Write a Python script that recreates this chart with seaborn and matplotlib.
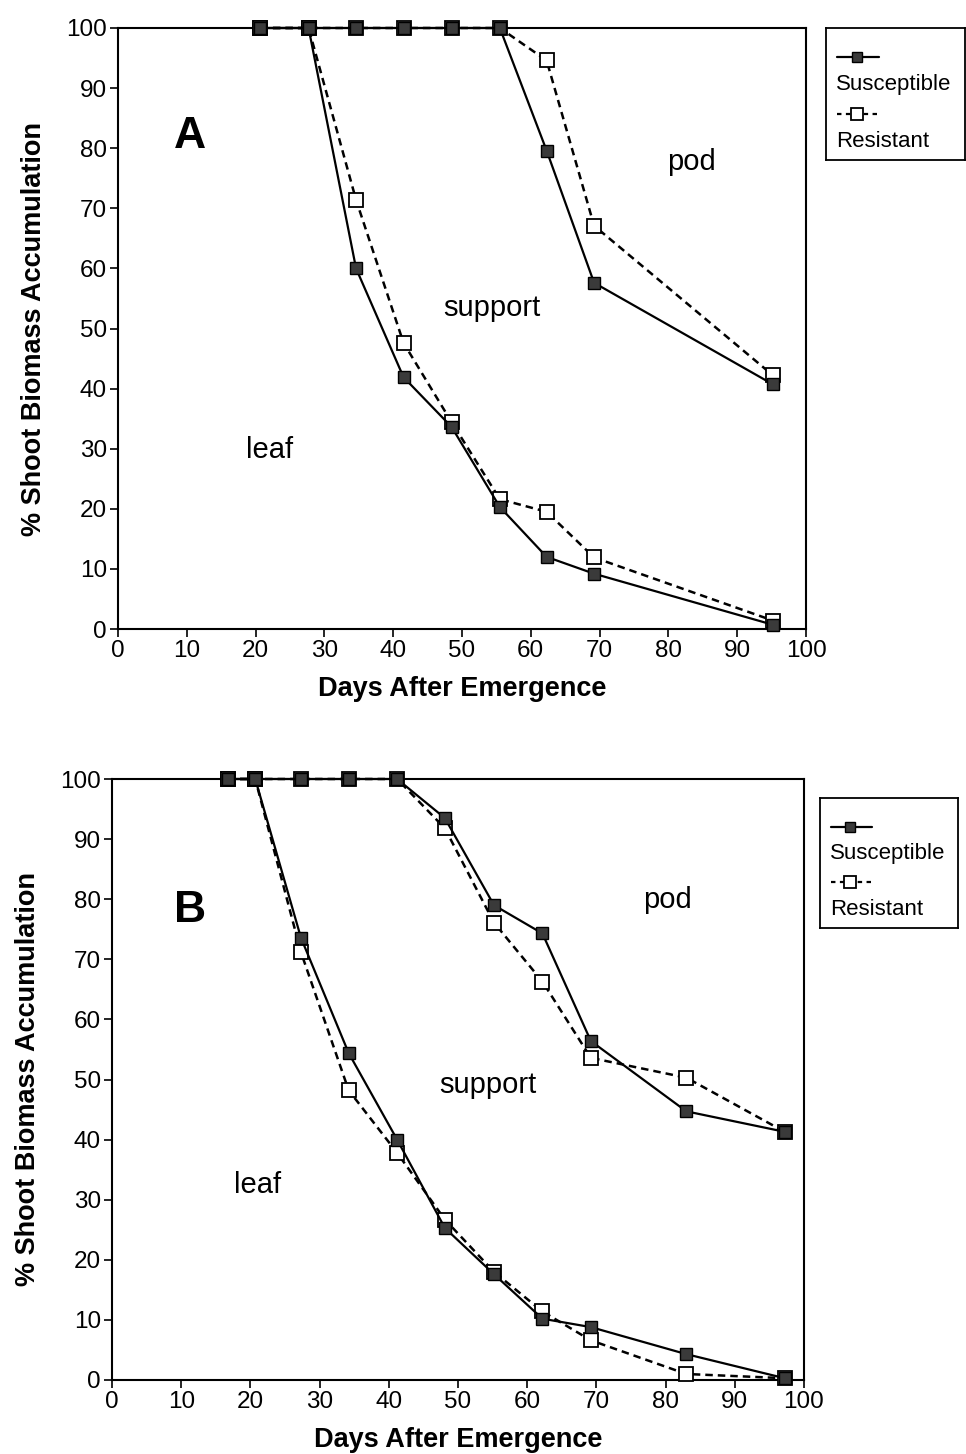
import matplotlib
matplotlib.use("Agg")
import matplotlib.pyplot as plt
import seaborn as sns
import numpy as np
import pandas as pd

# ---------------- data ----------------
# Panel A
days_a = [20.7, 27.7, 34.6, 41.5, 48.5, 55.5, 62.3, 69.2, 95.2]
sus_leaf_a = [100, 100, 60.0, 41.9, 33.6, 20.3, 12.0, 9.2, 0.7]
sus_ls_a = [100, 100, 100, 100, 100, 100, 79.6, 57.6, 40.7]
res_leaf_a = [100, 100, 71.4, 47.6, 34.4, 21.6, 19.5, 11.9, 1.4]
res_ls_a = [100, 100, 100, 100, 100, 100, 94.6, 67.1, 42.2]

# Panel B
days_b = [16.7, 20.7, 27.3, 34.2, 41.2, 48.1, 55.2, 62.2, 69.2, 83.0, 97.2]
sus_leaf_b = [100, 100, 73.6, 54.4, 40.0, 25.3, 17.6, 10.2, 8.8, 4.3, 0.3]
sus_ls_b = [100, 100, 100, 100, 100, 93.5, 79.0, 74.3, 56.4, 44.7, 41.3]
res_leaf_b = [100, 100, 71.2, 48.2, 37.8, 26.7, 18.0, 11.4, 6.6, 1.0, 0.3]
res_ls_b = [100, 100, 100, 100, 100, 91.8, 76.1, 66.3, 53.6, 50.3, 41.3]

ticks = list(range(0, 101, 10))
series_labels = ["Susceptible", "Resistant"]
region_labels = ["leaf", "support", "pod"]

sns.set_style("white")
plt.rcParams['font.family'] = ['Liberation Sans', 'DejaVu Sans']
plt.rcParams['text.color'] = 'black'
plt.rcParams['axes.labelcolor'] = 'black'
plt.rcParams['xtick.color'] = 'black'
plt.rcParams['ytick.color'] = 'black'

fig = plt.figure(figsize=(9.66, 14.54), dpi=100)

ax_a = fig.add_axes([118/966, 1-629/1454, 688/966, 601/1454])
ax_b = fig.add_axes([112/966, 1-1380/1454, 692/966, 601/1454])

sus_kw = dict(color="black", linewidth=1.6, marker="s", markersize=9,
              markerfacecolor="#3a3a3a", markeredgecolor="black",
              markeredgewidth=1.0, clip_on=False, zorder=4)
res_kw = dict(color="black", linewidth=1.8, linestyle=(0, (3, 2)),
              marker="s", markersize=10.5, markerfacecolor="white",
              markeredgecolor="black", markeredgewidth=1.3,
              clip_on=False, zorder=3)


def draw(ax, days, sl, sls, rl, rls, letter, txtpos):
    for ys in (rl, rls):
        sns.lineplot(x=days, y=ys, ax=ax, sort=False, estimator=None,
                     legend=False, **res_kw)
    for ys in (sl, sls):
        sns.lineplot(x=days, y=ys, ax=ax, sort=False, estimator=None,
                     legend=False, **sus_kw)
    ax.set_xlim(0, 100)
    ax.set_ylim(0, 100)
    ax.set_xticks(ticks)
    ax.set_yticks(ticks)
    ax.tick_params(direction="out", length=6, width=1.2, labelsize=17.5,
                   left=True, bottom=True, pad=2)
    for s in ax.spines.values():
        s.set_linewidth(1.5)
        s.set_color("black")
    ax.set_xlabel("Days After Emergence", fontsize=19.5, fontweight="bold",
                  labelpad=10)
    ax.set_ylabel("% Shoot Biomass Accumulation", fontsize=19.5,
                  fontweight="bold", labelpad=14)
    ax.text(txtpos[0][0], txtpos[0][1], letter, fontsize=32,
            fontweight="bold", ha="center", va="center")
    for lab, (x, y) in zip(region_labels, txtpos[1:]):
        ax.text(x, y, lab, fontsize=21, ha="center", va="center")


draw(ax_a, days_a, sus_leaf_a, sus_ls_a, res_leaf_a, res_ls_a, "A",
     [(10.5, 81.9), (22.1, 29.8), (54.4, 53.4), (83.3, 77.7)])
draw(ax_b, days_b, sus_leaf_b, sus_ls_b, res_leaf_b, res_ls_b, "B",
     [(11.3, 78.2), (21.1, 32.4), (54.3, 49.1), (80.3, 79.9)])


def legend_box(rect):
    lg = fig.add_axes(rect)
    lg.set_xlim(0, 1)
    lg.set_ylim(0, 1)
    lg.set_xticks([])
    lg.set_yticks([])
    for s in lg.spines.values():
        s.set_linewidth(1.3)
        s.set_color("black")
    lg.set_facecolor("white")
    lk = dict(sus_kw)
    lk.update(markersize=7, clip_on=True, markevery=[1])
    rk = dict(res_kw)
    rk.update(markersize=8, clip_on=True, linewidth=1.6, markevery=[1],
              linestyle=(0, (2, 2)))
    lg.plot([0.08, 0.22, 0.38], [0.78, 0.78, 0.78], **lk)
    lg.text(0.07, 0.57, series_labels[0], fontsize=16, va="center",
            ha="left")
    lg.plot([0.08, 0.22, 0.38], [0.35, 0.35, 0.35], **rk)
    lg.text(0.07, 0.14, series_labels[1], fontsize=16, va="center",
            ha="left")


legend_box([826/966, 1-160/1454, 139/966, 132/1454])
legend_box([820/966, 1-928/1454, 138/966, 130/1454])

fig.savefig("out.png", dpi=100, facecolor="white")
